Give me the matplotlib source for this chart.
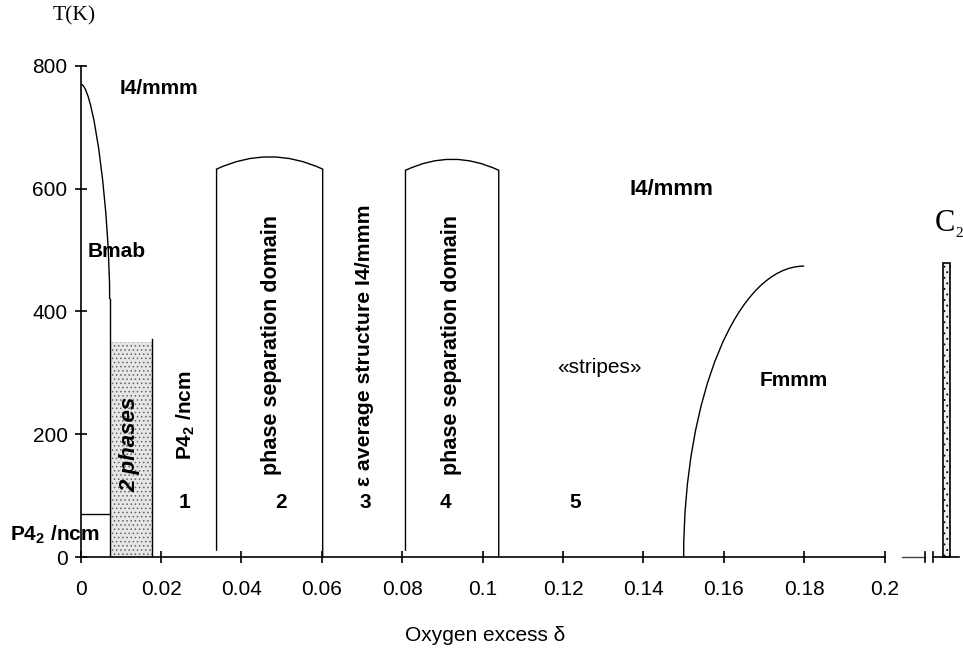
import numpy as np
import matplotlib
matplotlib.use("Agg")
import matplotlib.pyplot as plt
from matplotlib.patches import Rectangle, PathPatch
from matplotlib.path import Path

plt.rcParams['font.family'] = ['Liberation Sans', 'DejaVu Sans']
plt.rcParams['mathtext.fontset'] = 'custom'
plt.rcParams['mathtext.rm'] = 'Liberation Sans:bold'
plt.rcParams['mathtext.it'] = 'Liberation Sans:bold'
plt.rcParams['mathtext.bf'] = 'Liberation Sans:bold'
plt.rcParams['hatch.linewidth'] = 0.6

# --- data ---
# Bmab / I4/mmm boundary (bezier control points, then straight down)
bmab_ctrl_x = [0.0003, 0.0035, 0.0072, 0.0072]
bmab_ctrl_T = [770, 755, 560, 420]
bmab_foot_T = 0
# P4_2/ncm (low T, low delta)
p42_T = 70
# two-phase region
two_phase_x = [0.0073, 0.0178]
two_phase_T = 350
two_phase_edge_T = 355
# phase separation domains
dom_left = [0.0338, 0.0808]
dom_right = [0.0602, 0.1040]
dom_corner_T = [632, 630]
dom_top_T = [652, 648]
# Fmmm / I4/mmm boundary (bezier control points)
fmmm_ctrl_x = [0.1500, 0.1500, 0.1634, 0.1800]
fmmm_ctrl_T = [0, 262, 474, 474]
# C2 phase (beyond axis break)
c2_x = [0.2145, 0.2162]
c2_T = 479

x_ticks = [0, 0.02, 0.04, 0.06, 0.08, 0.1, 0.12, 0.14, 0.16, 0.18, 0.2]
x_ticklabels = ['0', '0.02', '0.04', '0.06', '0.08', '0.1', '0.12', '0.14', '0.16', '0.18', '0.2']
y_ticks = [0, 200, 400, 600, 800]

region_numbers = ['1', '2', '3', '4', '5']
region_x = [0.0257, 0.0498, 0.0709, 0.0908, 0.1231]

fig = plt.figure(figsize=(9.63, 6.56), dpi=100)
ax = fig.add_axes([0.0838, 0.1509, 0.9162, 0.7953])
ax.set_xlim(0, 0.2195)
ax.set_ylim(0, 850)

lw = 1.0
C4 = [Path.MOVETO, Path.CURVE4, Path.CURVE4, Path.CURVE4]

# Bmab dome
ax.add_patch(PathPatch(Path(list(zip(bmab_ctrl_x, bmab_ctrl_T)), C4),
                       facecolor='none', edgecolor='black', lw=lw))
ax.plot([bmab_ctrl_x[-1], bmab_ctrl_x[-1]], [bmab_ctrl_T[-1], bmab_foot_T], color='black', lw=lw)
ax.plot([0, bmab_ctrl_x[-1]], [p42_T, p42_T], color='black', lw=lw)

# two phases
ax.add_patch(Rectangle((two_phase_x[0], 0), two_phase_x[1] - two_phase_x[0], two_phase_T,
                       facecolor='#e6e6e6', edgecolor='#666666', hatch='....', lw=0))
ax.plot([two_phase_x[1], two_phase_x[1]], [0, two_phase_edge_T], color='black', lw=lw)

# phase separation domains
for xl, xr, tc, tt in zip(dom_left, dom_right, dom_corner_T, dom_top_T):
    xm = (xl + xr) / 2
    verts = [(xl, 10), (xl, tc), (xm, 2 * tt - tc), (xr, tc), (xr, 0)]
    codes = [Path.MOVETO, Path.LINETO, Path.CURVE3, Path.CURVE3, Path.LINETO]
    ax.add_patch(PathPatch(Path(verts, codes), facecolor='none', edgecolor='black', lw=lw))

# Fmmm dome
ax.add_patch(PathPatch(Path(list(zip(fmmm_ctrl_x, fmmm_ctrl_T)), C4),
                       facecolor='none', edgecolor='black', lw=lw))

# C2 bar
ax.add_patch(Rectangle((c2_x[0], 0), c2_x[1] - c2_x[0], c2_T,
                       facecolor='#efefef', edgecolor='black', hatch='...', lw=1.2, clip_on=False))

# axes
for s in ['top', 'right']:
    ax.spines[s].set_visible(False)
ax.spines['left'].set_bounds(0, 800)
ax.spines['bottom'].set_bounds(0, 0.2)
ax.spines['left'].set_linewidth(1.2)
ax.spines['bottom'].set_linewidth(1.2)
ax.set_xticks(x_ticks)
ax.set_xticklabels(x_ticklabels)
ax.set_yticks(y_ticks)
ax.tick_params(axis='x', direction='inout', length=9, width=1.2, pad=12, labelsize=15)
ax.tick_params(axis='y', direction='inout', length=9, width=1.2, pad=5, labelsize=15)

# axis break and continuation
ax.plot([0.2043, 0.2100], [0, 0], color='#444444', lw=1.0, clip_on=False)
ax.plot([0.2120, 0.2185], [0, 0], color='black', lw=1.2, clip_on=False)
for xb in [0.2100, 0.2120]:
    ax.plot([xb, xb], [-8, 8], color='black', lw=1.2, clip_on=False)

# labels
bold = dict(fontweight='bold', fontsize=15)
ax.text(0.0098, 764, 'I4/mmm', ha='left', va='center', **bold)
ax.text(0.0018, 497, 'Bmab', ha='left', va='center', **bold)
ax.text(0.1365, 598, 'I4/mmm', ha='left', va='center', fontweight='bold', fontsize=16)
ax.text(0.1290, 308, '«stripes»', ha='center', va='center', fontsize=15)
ax.text(0.1690, 288, 'Fmmm', ha='left', va='center', **bold)
for lab, xr in zip(region_numbers, region_x):
    ax.text(xr, 89, lab, ha='center', va='center', fontweight='bold', fontsize=15)

ax.text(0.0262, 231, 'P4$_2$ /ncm', rotation=90, ha='center', va='center', **bold)
ax.text(-0.0176, 36, 'P4$_2$ /ncm', ha='left', va='center', clip_on=False, **bold)
ax.text(0.0123, 184, '2 phases', rotation=90, ha='center', va='center',
        fontweight='bold', fontstyle='italic', fontsize=16)
ax.text(0.0475, 345, 'phase separation domain', rotation=90, ha='center', va='center',
        fontweight='bold', fontsize=15.5)
ax.text(0.0706, 345, 'ε average structure I4/mmm', rotation=90, ha='center', va='center',
        fontweight='bold', fontsize=15.3)
ax.text(0.0923, 345, 'phase separation domain', rotation=90, ha='center', va='center',
        fontweight='bold', fontsize=15.5)

ax.text(-0.0071, 881, 'T(K)', ha='left', va='center', family='Liberation Serif',
        fontsize=15.5, clip_on=False)
ax.text(0.2125, 543, 'C', ha='left', va='center', family='Liberation Serif',
        fontsize=22, clip_on=False)
ax.text(0.2175, 527, '2', ha='left', va='center', family='Liberation Serif',
        fontsize=11, clip_on=False)

fig.text(0.504, 0.031, 'Oxygen excess δ', ha='center', va='center', fontsize=15)

fig.savefig('out.png', dpi=100)
